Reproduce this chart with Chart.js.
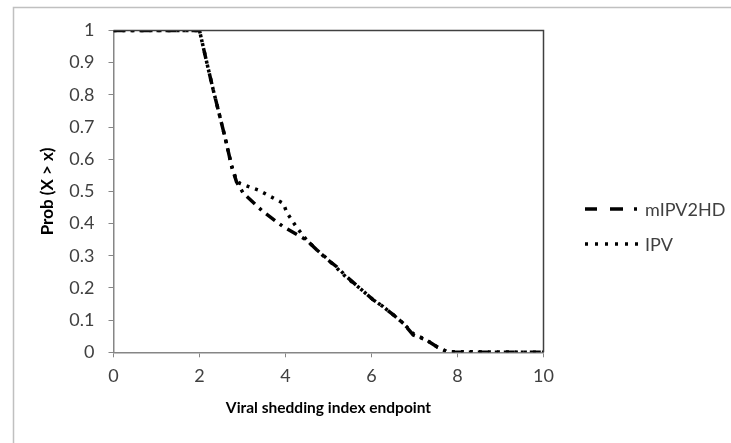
<!DOCTYPE html>
<html>
<head>
<meta charset="utf-8">
<script src="https://cdn.jsdelivr.net/npm/chart.js@4/dist/chart.umd.min.js"></script>
<style>
  html, body { margin: 0; padding: 0; background: #fff; }
  #wrap { width: 731px; height: 443px; }
</style>
</head>
<body>
<div id="wrap"><canvas id="c" width="731" height="443"></canvas></div>
<script>
// ---- data ----
const seriesNames = ["mIPV2HD", "IPV"];
const xTitle = "Viral shedding index endpoint";
const yTitle = "Prob (X > x)";
const xTickValues = [0, 2, 4, 6, 8, 10];
const yTickValues = [0, 0.1, 0.2, 0.3, 0.4, 0.5, 0.6, 0.7, 0.8, 0.9, 1];

const mIPV2HD_x = [0, 2, 2.17, 2.32, 2.59, 2.75, 2.86, 3.02, 3.48, 3.95, 4.49, 4.73, 4.96, 5.19, 5.42, 5.73, 6.04, 6.27, 6.51, 6.74, 6.97, 7.28, 7.52, 7.8, 10];
const mIPV2HD_y = [1, 1, 0.90, 0.815, 0.67, 0.577, 0.53, 0.494, 0.437, 0.39, 0.349, 0.318, 0.29, 0.266, 0.235, 0.199, 0.163, 0.142, 0.116, 0.09, 0.054, 0.038, 0.017, 0, 0];

const IPV_x = [0, 2, 2.17, 2.32, 2.59, 2.75, 2.86, 2.94, 3.37, 3.95, 4.03, 4.26, 4.49, 4.73, 4.96, 5.19, 5.42, 5.73, 6.04, 6.27, 6.51, 6.74, 6.97, 7.28, 7.52, 7.75, 10];
const IPV_y = [1, 1, 0.90, 0.815, 0.67, 0.577, 0.535, 0.525, 0.504, 0.463, 0.434, 0.388, 0.349, 0.318, 0.292, 0.262, 0.232, 0.199, 0.163, 0.142, 0.116, 0.09, 0.058, 0.038, 0.017, 0.002, 0];

const toPts = (xs, ys) => xs.map((x, i) => ({ x: x, y: ys[i] }));

const FONT = "Lato, 'Open Sans', sans-serif";
const dashA = [11, 6, 3, 6];
const dashB = [3, 6];
const legendDash = [[12, 13, 13, 11, 3, 40], [3, 7]];

const framePlugin = {
  id: 'frame',
  beforeDraw(chart) {
    const ctx = chart.ctx;
    ctx.save();
    ctx.fillStyle = '#fff';
    ctx.fillRect(0, 0, chart.width, chart.height);
    ctx.strokeStyle = '#c0c0c0';
    ctx.lineWidth = 1.5;
    ctx.beginPath();
    ctx.moveTo(13.5, 460);
    ctx.lineTo(13.5, 7.5);
    ctx.lineTo(760, 7.5);
    ctx.stroke();
    ctx.restore();
  },
  afterDatasetsDraw(chart) {
    const a = chart.chartArea;
    const ctx = chart.ctx;
    ctx.save();
    ctx.strokeStyle = '#404040';
    ctx.lineWidth = 1.5;
    ctx.beginPath();
    ctx.moveTo(a.left, a.top);
    ctx.lineTo(a.right, a.top);
    ctx.lineTo(a.right, a.bottom);
    ctx.stroke();
    ctx.restore();
  },
  afterDraw(chart) {
    const ctx = chart.ctx;
    const items = [
      { ds: chart.data.datasets[0], y: 209, dash: legendDash[0] },
      { ds: chart.data.datasets[1], y: 244, dash: legendDash[1] }
    ];
    ctx.save();
    items.forEach(it => {
      ctx.strokeStyle = '#000';
      ctx.lineWidth = it.ds.borderWidth;
      ctx.setLineDash(it.dash);
      ctx.beginPath();
      ctx.moveTo(585, it.y);
      ctx.lineTo(640, it.y);
      ctx.stroke();
      ctx.setLineDash([]);
      ctx.fillStyle = '#404040';
      ctx.font = "18px " + FONT;
      ctx.textBaseline = 'middle';
      ctx.textAlign = 'left';
      ctx.fillText(it.ds.label, 645, it.y + 1);
    });
    ctx.restore();
  }
};

new Chart(document.getElementById('c'), {
  type: 'scatter',
  data: {
    datasets: [
      { label: seriesNames[0], data: toPts(mIPV2HD_x, mIPV2HD_y), showLine: true, borderColor: '#000', borderWidth: 3.5, borderDash: dashA, pointRadius: 0, tension: 0, fill: false },
      { label: seriesNames[1], data: toPts(IPV_x, IPV_y), showLine: true, borderColor: '#000', borderWidth: 3.5, borderDash: dashB, pointRadius: 0, tension: 0, fill: false }
    ]
  },
  options: {
    responsive: false,
    animation: false,
    devicePixelRatio: 1,
    layout: { padding: { left: 13.5, top: 30.5, right: 187.5, bottom: 0 } },
    plugins: { legend: { display: false }, tooltip: { enabled: false } },
    scales: {
      x: {
        type: 'linear', min: 0, max: 10,
        afterBuildTicks(s) { s.ticks = xTickValues.map(v => ({ value: v })); },
        afterFit(s) { s.height = 443 - 352.3; },
        ticks: { color: '#404040', font: { family: FONT, size: 18 }, padding: 8, maxRotation: 0 },
        grid: { display: true, drawOnChartArea: false, tickLength: 5, color: '#868686', lineWidth: 1 },
        border: { display: true, color: '#868686', width: 1.5 },
        title: { display: true, text: xTitle, color: '#000', font: { family: FONT, size: 15.5, weight: 'bold' }, padding: { top: 26, bottom: 26 } }
      },
      y: {
        type: 'linear', min: 0, max: 1,
        afterBuildTicks(s) { s.ticks = yTickValues.map(v => ({ value: v })); },
        afterFit(s) { s.width = 100; },
        ticks: { color: '#404040', font: { family: FONT, size: 18 }, padding: 14, callback: v => String(Math.round(v * 10) / 10) },
        grid: { display: true, drawOnChartArea: false, tickLength: 5, color: '#868686', lineWidth: 1 },
        border: { display: true, color: '#868686', width: 1.5 },
        title: { display: true, text: yTitle, color: '#000', font: { family: FONT, size: 17, weight: 'bold' }, padding: { top: 24, bottom: 24 } }
      }
    }
  },
  plugins: [framePlugin]
});
</script>
</body>
</html>
